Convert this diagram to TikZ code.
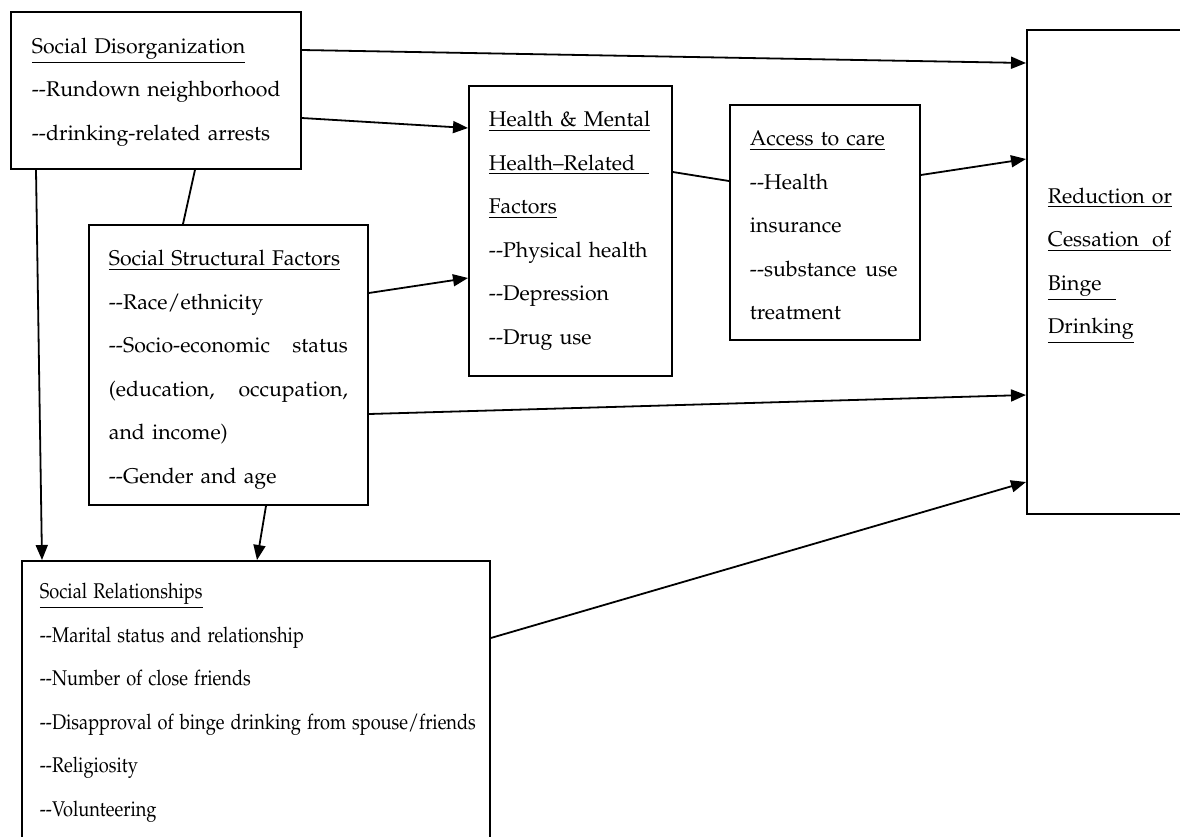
\documentclass[tikz,border=0pt]{standalone}
\usepackage[T1]{fontenc}
\usepackage{mathpazo}
\usepackage{graphicx}
\usetikzlibrary{arrows.meta,calc}
\newcommand{\srline}[1]{\scalebox{0.855}[1]{#1}}

\begin{document}
\begin{tikzpicture}[x=1pt,y=-1pt,
	box/.style = {draw, line width=1.8pt, anchor=north west, inner xsep=20pt, inner ysep=0pt, align=left},
	link/.style = {line width=1.8pt},
	arr/.style = {link, -{Triangle[length=15pt,width=12pt]}},
	font = \fontsize{21.3}{43.5}\selectfont]
	\useasboundingbox (0,0) rectangle (1180,836);
	\clip (0,0) rectangle (1180,836);
	\node [box, inner xsep=21pt, text width=248pt, minimum height=157pt] (sd) at (10,11)
		{\rule{0pt}{18.5pt}\underline{Social Disorganization}\\ \mbox{-{}-Rundown neighborhood}\\ \mbox{-{}-drinking-related arrests}};
	\node [box, text width=163pt, minimum height=290pt] (hm) at (468,85)
		{\underline{Health \& Mental}\\ \underline{Health--Related\ \ }\\ \underline{Factors}\\ -{}-Physical health\\ -{}-Depression\\ -{}-Drug use};
	\node [box, text width=150pt, minimum height=235pt] (acc) at (729,104)
		{\rule{0pt}{21.5pt}\underline{Access to care}\\ -{}-Health\\ insurance\\ \mbox{-{}-substance\hspace{9pt}use}\\ treatment};
	\node [box, inner xsep=21pt, text width=123pt, minimum height=484pt] (red) at (1026,29)
		{\underline{Reduction or}\\ \underline{\makebox[123pt][l]{Cessation\hfill of}}\\ \underline{Binge\ \ }\\ \underline{Drinking}\rule[-22pt]{0pt}{0pt}};
	\node [box, text width=239pt, minimum height=280pt] (ssf) at (88,224)
		{\rule{0pt}{25.5pt}\underline{Social Structural Factors}\\ -{}-Race/ethnicity\\ \makebox[239pt][l]{-{}-Socio-economic\hfill status}\\ \makebox[239pt][l]{(education,\hfill occupation,}\\ and income)\\ -{}-Gender and age};
	\node [box, inner xsep=18pt, text width=432pt, minimum height=284pt] (sr) at (21,560)
		{\srline{\underline{Social Relationships}}\\ \srline{-{}-Marital status and relationship}\\ \srline{-{}-Number of close friends}\\ \srline{-{}-Disapproval of binge drinking from spouse/friends}\\ \srline{-{}-Religiosity}\\ \srline{-{}-Volunteering}};
	\draw [arr] ($(sd.north east)+(0,39)$) -- ($(red.north west)+(0,34)$);
	\draw [arr] ($(sd.north east)+(0,107)$) -- ($(hm.north west)+(0,43)$);
	\draw [link] ($(sd.south west)+(185,0)$) -- ($(ssf.north west)+(95,0)$);
	\draw [arr] ($(sd.south west)+(26,0)$) -- ($(sr.north west)+(21,0)$);
	\draw [arr] ($(ssf.north east)+(0,69)$) -- ($(hm.north west)+(0,193)$);
	\draw [link] ($(hm.north east)+(0,87)$) -- ($(acc.north west)+(0,77)$);
	\draw [arr] ($(acc.north east)+(0,71)$) -- ($(red.north west)+(0,130)$);
	\draw [arr] ($(ssf.north east)+(0,190)$) -- ($(red.north west)+(0,366)$);
	\draw [arr] ($(ssf.south west)+(178,0)$) -- ($(sr.north west)+(236,0)$);
	\draw [arr] ($(sr.north east)+(0,78)$) -- ($(red.north west)+(0,453)$);
\end{tikzpicture}
\end{document}
